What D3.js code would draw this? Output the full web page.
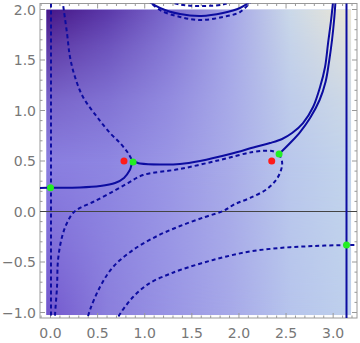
<!DOCTYPE html>
<html>
<head>
<meta charset="utf-8">
<script src="https://cdn.jsdelivr.net/npm/d3@7"></script>
<style>
body {margin: 0; background: #fff;}
svg {display: block;}
</style>
</head>
<body>
<div class="plot"></div>
<script>
var width = 360,
    height = 343
var frame = {left: 40, right: 357, top: 3.5, bottom: 318}

// tick values
var xTicks = [0, 0.5, 1, 1.5, 2, 2.5, 3]
var yTicks = [-1, -0.5, 0, 0.5, 1, 1.5, 2]

// solid contour curves (x, y)
var solidLeft = [[-0.12, 0.233], [0, 0.235], [0.313, 0.238], [0.525, 0.252], [0.685, 0.282],
  [0.78, 0.332], [0.842, 0.411], [0.876, 0.49], [0.95, 0.475], [1.162, 0.465], [1.375, 0.47],
  [1.587, 0.5], [1.906, 0.569], [2.171, 0.639], [2.33, 0.678], [2.458, 0.718], [2.564, 0.777],
  [2.68, 0.876], [2.787, 1.035], [2.861, 1.233], [2.914, 1.431], [2.946, 1.668], [2.978, 1.896],
  [2.999, 2.08]]
var solidRight = [[2.426, 0.569], [2.543, 0.678], [2.649, 0.787], [2.755, 0.926], [2.856, 1.104],
  [2.919, 1.282], [2.956, 1.48], [2.988, 1.698], [3.01, 1.896], [3.025, 2.08]]
var solidTop = [[0.98, 2.12], [1.162, 2.015], [1.375, 1.955], [1.6, 1.936], [1.83, 1.965],
  [2.011, 2.015], [2.18, 2.12]]
var solidPi = [[Math.PI, -1.1], [Math.PI, 2.1]]

// dashed contour curves
var dashZero = [[0.005, -1.1], [0.005, 2.1]]
var dashUpper = [[0.128, 2.1], [0.133, 2.054], [0.175, 1.767], [0.207, 1.53], [0.26, 1.332],
  [0.345, 1.134], [0.494, 0.936], [0.632, 0.777], [0.738, 0.678], [0.823, 0.579], [0.876, 0.49]]
var dashMid = [[0.046, -1.1], [0.048, -1.025], [0.069, -0.748], [0.08, -0.48], [0.122, -0.252],
  [0.175, -0.114], [0.239, -0.015], [0.313, 0.035], [0.451, 0.094], [0.632, 0.183], [0.823, 0.282],
  [0.982, 0.361], [1.375, 0.421], [1.799, 0.51], [2.15, 0.589], [2.352, 0.599], [2.426, 0.569]]
var dashDown = [[2.426, 0.569], [2.458, 0.49], [2.447, 0.411], [2.394, 0.312], [2.298, 0.223],
  [2.118, 0.134], [1.959, 0.074], [1.831, 0.005], [1.64, -0.054], [1.375, -0.144], [1.131, -0.243],
  [0.876, -0.381], [0.663, -0.55], [0.525, -0.748], [0.419, -0.975], [0.38, -1.1]]
var dashLow = [[0.69, -1.1], [0.717, -1.045], [0.876, -0.847], [1.056, -0.707], [1.237, -0.629],
  [1.375, -0.579], [1.725, -0.48], [2.086, -0.401], [2.436, -0.361], [2.787, -0.342],
  [3.1416, -0.332], [3.3, -0.332]]
var dashTopIn = [[1.03, 2.1], [1.162, 1.995], [1.375, 1.926], [1.6, 1.896], [1.83, 1.926],
  [2.011, 1.975], [2.15, 2.1]]
var dashTopOut = [[1.1, 2.12], [1.375, 2.05], [1.6, 2.035], [1.83, 2.05], [2.05, 2.12]]

var greenPts = [[0, 0.235], [0.876, 0.49], [2.426, 0.569], [Math.PI, -0.332]]
var redPts = [[0.78, 0.5], [2.348, 0.5]]

// background colour rows (left to right) for top, middle, bottom
var bgTop = ["#461585", "#5a37a8", "#7a68cc", "#a3a3e6", "#cad8e8", "#ece6d4"]
var bgMid = ["#8a7ee0", "#8e86e2", "#9a96e6", "#a9ace9", "#bac8ec", "#c3d5ec"]
var bgBot = ["#7256cc", "#8a7edc", "#9894e4", "#a6a8e8", "#b6c4ec", "#bed0ec"]

var x = d3.scaleLinear().domain([0, Math.PI]).range([50.5, 346.5])
var y = d3.scaleLinear().domain([-1, 2]).range([312.5, 9.5])

var svg = d3.select(".plot")
  .append("svg")
  .attr("width", width)
  .attr("height", height)

var defs = svg.append("defs")

function hGrad(id, colors) {
  var g = defs.append("linearGradient").attr("id", id)
    .attr("x1", 0).attr("x2", 1).attr("y1", 0).attr("y2", 0)
  colors.forEach(function(c, i) {
    g.append("stop").attr("offset", i / (colors.length - 1)).attr("stop-color", c)
  })
}
hGrad("gTop", bgTop)
hGrad("gMid", bgMid)
hGrad("gBot", bgBot)

function vMask(id, stops) {
  var g = defs.append("linearGradient").attr("id", id + "G")
    .attr("x1", 0).attr("x2", 0).attr("y1", 0).attr("y2", 1)
  stops.forEach(function(s) {
    g.append("stop").attr("offset", s[0]).attr("stop-color", "#fff").attr("stop-opacity", s[1])
  })
  defs.append("mask").attr("id", id)
    .attr("maskContentUnits", "objectBoundingBox")
    .append("rect").attr("width", 1).attr("height", 1).attr("fill", "url(#" + id + "G)")
}
vMask("mTop", [[0, 1], [0.12, 0.65], [0.3, 0.25], [0.5, 0]])
vMask("mBot", [[0.5, 0], [0.75, 0.4], [1, 1]])

defs.append("clipPath").attr("id", "clipFrame")
  .append("rect")
  .attr("x", frame.left).attr("y", frame.top)
  .attr("width", frame.right - frame.left).attr("height", frame.bottom - frame.top)

// density background
var dx0 = x(-0.045), dx1 = x(3.19), dy0 = y(2.0), dy1 = y(-1.025)
var bg = svg.append("g").attr("class", "density")
bg.append("rect").attr("x", dx0).attr("y", dy0).attr("width", dx1 - dx0).attr("height", dy1 - dy0)
  .attr("fill", "url(#gMid)")
bg.append("rect").attr("x", dx0).attr("y", dy0).attr("width", dx1 - dx0).attr("height", dy1 - dy0)
  .attr("fill", "url(#gTop)").attr("mask", "url(#mTop)")
bg.append("rect").attr("x", dx0).attr("y", dy0).attr("width", dx1 - dx0).attr("height", dy1 - dy0)
  .attr("fill", "url(#gBot)").attr("mask", "url(#mBot)")

// frame + ticks
var axisColor = "#999"
var ax = svg.append("g").attr("class", "frame")
ax.append("rect")
  .attr("x", frame.left).attr("y", frame.top)
  .attr("width", frame.right - frame.left).attr("height", frame.bottom - frame.top)
  .attr("fill", "none").attr("stroke", axisColor).attr("stroke-width", 1)

var xMinor = d3.range(-0.1, 3.25, 0.1).filter(function(v) { return x(v) > frame.left && x(v) < frame.right })
var yMinor = d3.range(-1, 2.01, 0.1)

xMinor.forEach(function(v) {
  var major = Math.abs(v * 2 - Math.round(v * 2)) < 1e-6
  var len = major ? 5 : 2.5
  ax.append("line").attr("x1", x(v)).attr("x2", x(v))
    .attr("y1", frame.bottom).attr("y2", frame.bottom - len).attr("stroke", axisColor)
  ax.append("line").attr("x1", x(v)).attr("x2", x(v))
    .attr("y1", frame.top).attr("y2", frame.top + len).attr("stroke", axisColor)
})
yMinor.forEach(function(v) {
  var major = Math.abs(v * 2 - Math.round(v * 2)) < 1e-6
  var len = major ? 5 : 2.5
  ax.append("line").attr("y1", y(v)).attr("y2", y(v))
    .attr("x1", frame.left).attr("x2", frame.left + len).attr("stroke", axisColor)
  ax.append("line").attr("y1", y(v)).attr("y2", y(v))
    .attr("x1", frame.right).attr("x2", frame.right - len).attr("stroke", axisColor)
})

var fmt = function(v) { return d3.format(".1f")(v).replace("-", "\u2212") }
ax.selectAll(".xl").data(xTicks).enter().append("text")
  .attr("x", function(d) { return x(d) }).attr("y", 338)
  .attr("text-anchor", "middle")
  .attr("font-family", "DejaVu Sans").attr("font-size", 14).attr("fill", "#777")
  .text(fmt)
ax.selectAll(".yl").data(yTicks).enter().append("text")
  .attr("x", 36).attr("y", function(d) { return y(d) + 5 })
  .attr("text-anchor", "end")
  .attr("font-family", "DejaVu Sans").attr("font-size", 14).attr("fill", "#777")
  .text(fmt)

// curves
var plot = svg.append("g").attr("clip-path", "url(#clipFrame)")

plot.append("line")
  .attr("x1", frame.left).attr("x2", frame.right)
  .attr("y1", y(0)).attr("y2", y(0))
  .attr("stroke", "#444").attr("stroke-width", 1.2)

var line = d3.line()
  .x(function(d) { return x(d[0]) })
  .y(function(d) { return y(d[1]) })
  .curve(d3.curveCatmullRom.alpha(0.5))

var blue = "#0c0ca0"
var solids = [solidLeft, solidRight, solidTop, solidPi]
var dashes = [dashZero, dashUpper, dashMid, dashDown, dashLow, dashTopIn, dashTopOut]

plot.selectAll(".dash").data(dashes).enter().append("path")
  .attr("d", line).attr("fill", "none")
  .attr("stroke", blue).attr("stroke-width", 2).attr("stroke-dasharray", "4,3")
plot.selectAll(".solid").data(solids).enter().append("path")
  .attr("d", line).attr("fill", "none")
  .attr("stroke", blue).attr("stroke-width", 2)

plot.selectAll(".red").data(redPts).enter().append("circle")
  .attr("cx", function(d) { return x(d[0]) }).attr("cy", function(d) { return y(d[1]) })
  .attr("r", 3.5).attr("fill", "#ff1a1a")
plot.selectAll(".green").data(greenPts).enter().append("circle")
  .attr("cx", function(d) { return x(d[0]) }).attr("cy", function(d) { return y(d[1]) })
  .attr("r", 3.5).attr("fill", "#22ee22")
</script>
</body>
</html>
